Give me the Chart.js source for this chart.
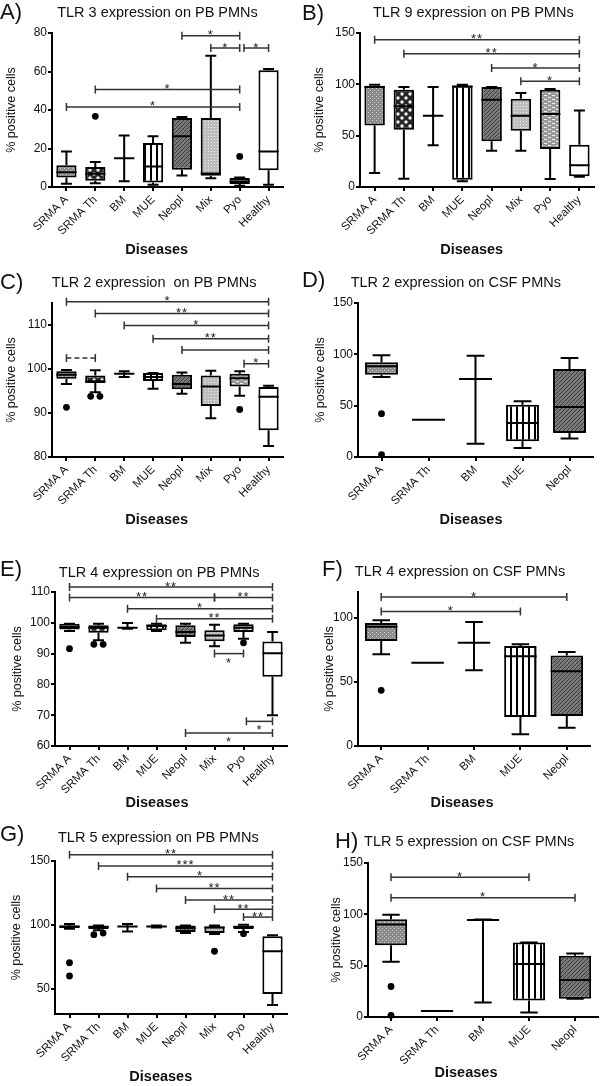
<!DOCTYPE html>
<html>
<head>
<meta charset="utf-8">
<script src="https://cdn.jsdelivr.net/npm/chart.js@4.4.1/dist/chart.umd.min.js"></script>
<style>
  html, body { margin: 0; background: #fff; overflow: hidden; }
  #fig { position: relative; width: 600px; height: 1086px; overflow: hidden; }
  #fig canvas { position: absolute; }
</style>
</head>
<body>
<div id="fig"></div>
<script>
// categories and box fills
const pbDiseases = ['SRMA A', 'SRMA Th', 'BM', 'MUE', 'Neopl', 'Mix', 'Pyo', 'Healthy'];
const csfDiseases = ['SRMA A', 'SRMA Th', 'BM', 'MUE', 'Neopl'];
const pbFills = ['grayDots', 'checker', 'none', 'stripes', 'hatch', 'lightDots', 'dashes', 'white'];
const csfFills = ['grayDots', 'none', 'none', 'stripes', 'hatch'];

// A) TLR 3 on PB PMNs
const tlr3PbMin = [1.7, 2, 3, 1.2, 6, 4.5, 0.7, 1.2];
const tlr3PbQ1 = [5, 3.3, 15, 2.4, 9, 5.8, 1.6, 8.7];
const tlr3PbMed = [7.6, 6.9, 15, 10.7, 26.3, 7, 2.9, 18.5];
const tlr3PbQ3 = [11.3, 10.4, 15, 22.9, 35.8, 35.8, 4.7, 60.6];
const tlr3PbMax = [18.5, 13, 26.8, 26.3, 36.4, 68.2, 5, 61.3];
const tlr3PbOut = [[1, 36.7], [6, 15.9]];
// [from, to, y, label, label below, dashed]
const tlr3PbSig = [[4, 6, 78.6, '*'], [5, 6, 72.2, '*'], [6.15, 7, 72.2, '*'], [1, 6, 50.6, '*'], [0, 6, 41.6, '*']];

// B) TLR 9 on PB PMNs
const tlr9PbMin = [13.6, 8.1, 40.6, 5.5, 35.4, 35.4, 7.8, 10];
const tlr9PbQ1 = [60, 55.8, 69.5, 7.1, 44.5, 54.9, 37, 10.4];
const tlr9PbMed = [97.4, 78.6, 69.5, 98, 85, 69.5, 71.1, 21.1];
const tlr9PbQ3 = [98.7, 94.8, 69.5, 98.7, 97.4, 86, 94.8, 41.2];
const tlr9PbMax = [99.7, 97.4, 97.4, 99.7, 97.4, 91.6, 95.5, 74.4];
const tlr9PbOut = [];
const tlr9PbSig = [[0, 7, 143.5, '**'], [1, 7, 129.9, '**'], [4, 7, 115.9, '*'], [5, 7, 102.9, '*']];

// C) TLR 2 on PB PMNs
const tlr2PbMin = [96.6, 94.7, 98.2, 95.5, 94.4, 88.8, 93.9, 82.5];
const tlr2PbQ1 = [97.8, 96.8, 98.9, 97.3, 95.4, 91.6, 96, 86.1];
const tlr2PbMed = [98.7, 97.2, 98.9, 98.2, 96.6, 96, 97.9, 93.7];
const tlr2PbQ3 = [99.5, 98.5, 98.9, 99.1, 98.7, 98.5, 98.9, 95.9];
const tlr2PbMax = [99.8, 99.7, 99.5, 99.1, 99.2, 99.6, 99.5, 96.2];
const tlr2PbOut = [[0, 91.3], [0.84, 93.8], [1.16, 93.8], [6, 90.8]];
const tlr2PbSig = [[0, 7, 115.3, '*'], [1, 7, 112.6, '**'], [2, 7, 109.9, '*'], [3, 7, 106.9, '**'],
  [4, 7, 104.3, ''], [6.15, 7, 101.2, '*'], [0, 1, 102.5, '', false, true]];

// D) TLR 2 on CSF PMNs
const tlr2CsfMin = [77.9, 36.4, 13, 8.8, 17.9];
const tlr2CsfQ1 = [80.2, 36.4, 76, 15.3, 23.4];
const tlr2CsfMed = [88.3, 36.4, 76, 33.1, 48.7];
const tlr2CsfQ3 = [92.2, 36.4, 76, 51, 85.7];
const tlr2CsfMax = [99, 36.4, 98.7, 54.2, 96.4];
const tlr2CsfOut = [[0, 42.2], [0, 2.3]];
const tlr2CsfSig = [];

// E) TLR 4 on PB PMNs
const tlr4PbMin = [97.3, 94.3, 98.1, 97.3, 93.5, 92.4, 94.8, 70];
const tlr4PbQ1 = [97.8, 96.8, 98.4, 97.6, 95.4, 94, 97, 82.5];
const tlr4PbMed = [98.6, 98.4, 98.4, 99, 97, 95.9, 98.4, 90.1];
const tlr4PbQ3 = [99.7, 99.2, 98.4, 99.5, 99.2, 97.6, 99.5, 93.9];
const tlr4PbMax = [99.7, 99.7, 99.9, 99.7, 99.7, 99.4, 99.7, 97];
const tlr4PbOut = [[0, 91.6], [0.84, 93], [1.16, 93], [6, 93.5]];
const tlr4PbSig = [[0, 7, 111.6, '**'], [0, 5, 108.2, '**'], [5, 7, 108.2, '**'], [2, 7, 104.6, '*'],
  [3, 7, 101.3, '**'], [5, 6, 90, '*', true], [6.1, 7, 68, '*', true], [4, 7, 64.2, '*', true]];

// F) TLR 4 on CSF PMNs
const tlr4CsfMin = [71.4, 64.9, 59, 9.1, 14.3];
const tlr4CsfQ1 = [81.8, 64.9, 80.5, 22.6, 23.4];
const tlr4CsfMed = [93, 64.9, 80.5, 69.9, 58.2];
const tlr4CsfQ3 = [95.8, 64.9, 80.5, 77.9, 70.6];
const tlr4CsfMax = [97.9, 64.9, 96.6, 79.2, 73.2];
const tlr4CsfOut = [[0, 43.4]];
const tlr4CsfSig = [[0, 4, 116.1, '*'], [0, 3, 104.9, '*']];

// G) TLR 5 on PB PMNs
const tlr5PbMin = [96.9, 95.6, 94.8, 97.8, 93.5, 92.7, 94.3, 37];
const tlr5PbQ1 = [97.4, 96.6, 98.7, 98, 94.3, 93.5, 96.6, 45.6];
const tlr5PbMed = [98.7, 98.2, 98.7, 98.7, 97.4, 97.9, 98.2, 79.3];
const tlr5PbQ3 = [99.5, 99.5, 98.7, 99.2, 99.5, 98.7, 99.5, 90.9];
const tlr5PbMax = [100.5, 99.5, 100.5, 99.4, 99.5, 99.5, 100, 91.7];
const tlr5PbOut = [[0, 70.2], [0, 59.8], [0.84, 92.2], [1.16, 93.5], [5, 79.2], [6, 93]];
const tlr5PbSig = [[0, 7, 154.9, '**'], [1, 7, 146.1, '***'], [2, 7, 137.6, '*'], [3, 7, 128.5, '**'],
  [4, 7, 119.4, '**'], [5, 7, 112.2, '**'], [6, 7, 106, '**']];

// H) TLR 5 on CSF PMNs
const tlr5CsfMin = [53.9, 5.8, 14.2, 4.5, 17.7];
const tlr5CsfQ1 = [70, 5.8, 94.5, 16.1, 17.7];
const tlr5CsfMed = [90, 5.8, 94.5, 51.6, 36.1];
const tlr5CsfQ3 = [95.2, 5.8, 94.5, 72.6, 59.7];
const tlr5CsfMax = [99.7, 5.8, 95, 72.6, 61.9];
const tlr5CsfOut = [[0, 29.7], [0, 1.6]];
const tlr5CsfSig = [[0, 3, 136.1, '*'], [0, 4, 116.1, '*']];

const FONT = '"Liberation Sans", Arial, Helvetica, sans-serif';
const INK = '#111';

/** Small repeating textures like the GraphPad box fills. */
function makeFill(kind) {
  if (kind === 'white') return '#ffffff';
  if (kind === 'none') return 'rgba(0,0,0,0)';
  const c = document.createElement('canvas');
  const g = c.getContext('2d');
  if (kind === 'grayDots') {
    c.width = 4; c.height = 4;
    g.fillStyle = '#8a8a8a'; g.fillRect(0, 0, 4, 4);
    g.fillStyle = '#cfcfcf'; g.fillRect(0, 0, 1, 1); g.fillRect(2, 2, 1, 1);
  } else if (kind === 'checker') {
    c.width = 8; c.height = 8;
    g.fillStyle = '#262626'; g.fillRect(0, 0, 8, 8);
    g.fillStyle = '#f2f2f2';
    g.beginPath(); g.arc(2, 2, 1.7, 0, Math.PI * 2); g.arc(6, 6, 1.7, 0, Math.PI * 2); g.fill();
  } else if (kind === 'stripes') {
    c.width = 6; c.height = 2;
    g.fillStyle = '#ffffff'; g.fillRect(0, 0, 6, 2);
    g.fillStyle = '#000000'; g.fillRect(0, 0, 2, 2);
  } else if (kind === 'hatch') {
    c.width = 4; c.height = 4;
    g.fillStyle = '#7a7a7a'; g.fillRect(0, 0, 4, 4);
    g.fillStyle = '#3a3a3a';
    g.fillRect(0, 3, 1, 1); g.fillRect(1, 2, 1, 1); g.fillRect(2, 1, 1, 1); g.fillRect(3, 0, 1, 1);
  } else if (kind === 'lightDots') {
    c.width = 3; c.height = 3;
    g.fillStyle = '#bdbdbd'; g.fillRect(0, 0, 3, 3);
    g.fillStyle = '#eeeeee'; g.fillRect(1, 1, 1, 1);
  } else if (kind === 'dashes') {
    c.width = 8; c.height = 4;
    g.fillStyle = '#9a9a9a'; g.fillRect(0, 0, 8, 4);
    g.fillStyle = '#f0f0f0'; g.fillRect(0, 1, 3, 1); g.fillRect(4, 3, 3, 1);
  }
  return g.createPattern(c, 'repeat');
}

/** Whiskers, medians, outliers, significance bars and panel texts. */
const boxExtras = {
  id: 'boxExtras',
  afterDatasetsDraw(chart, args, o) {
    const { ctx, scales: { x, y } } = chart;
    const bars = chart.getDatasetMeta(0).data;
    ctx.save();
    ctx.strokeStyle = '#000';
    ctx.lineWidth = 2;
    o.med.forEach((m, i) => {
      const cx = x.getPixelForValue(i);
      const w = bars[i].width;
      const yMin = y.getPixelForValue(o.min[i]);
      const yMax = y.getPixelForValue(o.max[i]);
      const yQ1 = y.getPixelForValue(o.q1[i]);
      const yQ3 = y.getPixelForValue(o.q3[i]);
      const yMed = y.getPixelForValue(m);
      ctx.beginPath();
      ctx.moveTo(cx, yMin); ctx.lineTo(cx, yQ1);
      ctx.moveTo(cx, yQ3); ctx.lineTo(cx, yMax);
      ctx.moveTo(cx - w * 0.27, yMin); ctx.lineTo(cx + w * 0.27, yMin);
      ctx.moveTo(cx - w * 0.27, yMax); ctx.lineTo(cx + w * 0.27, yMax);
      ctx.moveTo(cx - w / 2, yMed); ctx.lineTo(cx + w / 2, yMed);
      ctx.stroke();
    });
    ctx.fillStyle = '#000';
    o.out.forEach(([i, v]) => {
      ctx.beginPath();
      ctx.arc(x.getPixelForValue(i), y.getPixelForValue(v), 3.4, 0, Math.PI * 2);
      ctx.fill();
    });
    ctx.strokeStyle = '#333';
    ctx.fillStyle = '#222';
    ctx.lineWidth = 1.5;
    ctx.font = '13px ' + FONT;
    ctx.textAlign = 'center';
    ctx.textBaseline = 'alphabetic';
    ctx.letterSpacing = '1px';
    o.sig.forEach(([a, b, v, txt, below, dashed]) => {
      const x1 = x.getPixelForValue(a);
      const x2 = x.getPixelForValue(b);
      const yy = y.getPixelForValue(v);
      ctx.setLineDash(dashed ? [5, 3] : []);
      ctx.beginPath(); ctx.moveTo(x1, yy); ctx.lineTo(x2, yy); ctx.stroke();
      ctx.setLineDash([]);
      ctx.beginPath();
      ctx.moveTo(x1, yy - 4); ctx.lineTo(x1, yy + 4);
      ctx.moveTo(x2, yy - 4); ctx.lineTo(x2, yy + 4);
      ctx.stroke();
      if (txt) ctx.fillText(txt, (x1 + x2) / 2, below ? yy + 13 : yy + 3.5);
    });
    ctx.restore();
  },
  afterDraw(chart, args, o) {
    const { ctx } = chart;
    ctx.save();
    ctx.fillStyle = INK;
    ctx.textBaseline = 'middle';
    ctx.textAlign = 'center';
    ctx.font = '14.5px ' + FONT;
    ctx.fillText(o.title, o.titlePos[0], o.titlePos[1]);
    ctx.font = 'bold 14.5px ' + FONT;
    ctx.fillText('Diseases', o.disPos[0], o.disPos[1]);
    ctx.textAlign = 'left';
    ctx.font = '22px ' + FONT;
    ctx.fillText(o.letter, o.letterPos[0], o.letterPos[1]);
    ctx.restore();
  }
};

const panels = [
  { letter: 'A)', title: 'TLR 3 expression on PB PMNs', labels: pbDiseases, fills: pbFills,
    min: tlr3PbMin, q1: tlr3PbQ1, med: tlr3PbMed, q3: tlr3PbQ3, max: tlr3PbMax, out: tlr3PbOut, sig: tlr3PbSig,
    yMin: 0, yMax: 80, step: 20,
    left: 0, top: 0, w: 300, h: 280, area: [52, 283, 33, 187], yTitleX: 12,
    titlePos: [157.5, 12.7], letterPos: [0, 12.5], disPos: [156.7, 250] },
  { letter: 'B)', title: 'TLR 9 expression on PB PMNs', labels: pbDiseases, fills: pbFills,
    min: tlr9PbMin, q1: tlr9PbQ1, med: tlr9PbMed, q3: tlr9PbQ3, max: tlr9PbMax, out: tlr9PbOut, sig: tlr9PbSig,
    yMin: 0, yMax: 150, step: 50,
    left: 300, top: 0, w: 300, h: 280, area: [60, 294, 33, 187], yTitleX: 20,
    titlePos: [173.3, 13.3], letterPos: [2, 14], disPos: [171.7, 250] },
  { letter: 'C)', title: 'TLR 2 expression  on PB PMNs', labels: pbDiseases, fills: pbFills,
    min: tlr2PbMin, q1: tlr2PbQ1, med: tlr2PbMed, q3: tlr2PbQ3, max: tlr2PbMax, out: tlr2PbOut, sig: tlr2PbSig,
    yMin: 80, yMax: 115, step: 10,
    left: 0, top: 270, w: 300, h: 280, area: [52, 283, 33, 187], yTitleX: 12,
    titlePos: [154.2, 13.3], letterPos: [0, 12.5], disPos: [156.7, 250] },
  { letter: 'D)', title: 'TLR 2 expression on CSF PMNs', labels: csfDiseases, fills: csfFills,
    min: tlr2CsfMin, q1: tlr2CsfQ1, med: tlr2CsfMed, q3: tlr2CsfQ3, max: tlr2CsfMax, out: tlr2CsfOut, sig: tlr2CsfSig,
    yMin: 0, yMax: 150, step: 50,
    left: 300, top: 270, w: 300, h: 280, area: [58, 293, 33, 187], yTitleX: 21,
    titlePos: [155.8, 12.7], letterPos: [2, 11], disPos: [171, 250] },
  { letter: 'E)', title: 'TLR 4 expression on PB PMNs', labels: pbDiseases, fills: pbFills,
    min: tlr4PbMin, q1: tlr4PbQ1, med: tlr4PbMed, q3: tlr4PbQ3, max: tlr4PbMax, out: tlr4PbOut, sig: tlr4PbSig,
    yMin: 60, yMax: 110, step: 10,
    left: 0, top: 540, w: 300, h: 280, area: [55, 287, 52, 206], yTitleX: 18,
    titlePos: [159.2, 33.3], letterPos: [0, 29.5], disPos: [157, 263] },
  { letter: 'F)', title: 'TLR 4 expression on CSF PMNs', labels: csfDiseases, fills: csfFills,
    min: tlr4CsfMin, q1: tlr4CsfQ1, med: tlr4CsfMed, q3: tlr4CsfQ3, max: tlr4CsfMax, out: tlr4CsfOut, sig: tlr4CsfSig,
    yMin: 0, yMax: 120, step: 50,
    left: 300, top: 540, w: 300, h: 280, area: [58, 290, 52, 206], yTitleX: 30,
    titlePos: [160, 31.7], letterPos: [22, 30], disPos: [162, 263] },
  { letter: 'G)', title: 'TLR 5 expression on PB PMNs', labels: pbDiseases, fills: pbFills,
    min: tlr5PbMin, q1: tlr5PbQ1, med: tlr5PbMed, q3: tlr5PbQ3, max: tlr5PbMax, out: tlr5PbOut, sig: tlr5PbSig,
    yMin: 30, yMax: 150, step: 50,
    left: 0, top: 810, w: 300, h: 276, area: [55, 287, 51, 204], yTitleX: 17,
    titlePos: [158.3, 28.3], letterPos: [0, 25], disPos: [160.8, 266.7] },
  { letter: 'H)', title: 'TLR 5 expression on CSF PMNs', labels: csfDiseases, fills: csfFills,
    min: tlr5CsfMin, q1: tlr5CsfQ1, med: tlr5CsfMed, q3: tlr5CsfQ3, max: tlr5CsfMax, out: tlr5CsfOut, sig: tlr5CsfSig,
    yMin: 0, yMax: 150, step: 50,
    left: 300, top: 810, w: 300, h: 276, area: [68, 298, 53, 207], yTitleX: 37,
    titlePos: [169.2, 31.7], letterPos: [35, 32], disPos: [166, 263] }
];

/** One box plot panel: boxes are floating bars, the rest is drawn by boxExtras. */
function makePanel(p) {
  const canvas = document.createElement('canvas');
  canvas.width = p.w;
  canvas.height = p.h;
  canvas.style.left = p.left + 'px';
  canvas.style.top = p.top + 'px';
  document.getElementById('fig').appendChild(canvas);
  const [al, ar, at, ab] = p.area;

  const config = {
    type: 'bar',
    data: {
      labels: p.labels,
      datasets: [{
        data: p.q1.map((v, i) => [v, p.q3[i]]),
        backgroundColor: p.fills.map(makeFill),
        borderColor: '#000',
        borderWidth: 2,
        borderSkipped: false,
        barPercentage: 0.7,
        categoryPercentage: 1
      }]
    },
    options: {
      responsive: false,
      animation: false,
      layout: { padding: { left: 0, top: at, right: p.w - ar, bottom: 0 } },
      plugins: {
        legend: { display: false },
        tooltip: { enabled: false },
        boxExtras: {
          min: p.min, q1: p.q1, med: p.med, q3: p.q3, max: p.max, out: p.out, sig: p.sig,
          title: p.title, letter: p.letter,
          titlePos: p.titlePos, letterPos: p.letterPos, disPos: p.disPos
        }
      },
      scales: {
        x: {
          offset: true,
          grid: { drawOnChartArea: false, drawTicks: true, tickLength: 4, color: '#000', lineWidth: 2, offset: false },
          border: { display: true, color: '#000', width: 2 },
          ticks: {
            color: INK, font: { family: FONT, size: 11.5 },
            minRotation: 45, maxRotation: 45, autoSkip: false, padding: 2
          },
          afterFit: s => { s.height = p.h - ab; }
        },
        y: {
          min: p.yMin,
          max: p.yMax,
          grid: { drawOnChartArea: false, drawTicks: true, tickLength: 4, color: '#000', lineWidth: 2 },
          border: { display: true, color: '#000', width: 2 },
          ticks: { stepSize: p.step, includeBounds: false, color: INK, font: { family: FONT, size: 12 }, padding: 1 },
          title: {
            display: true, text: '% positive cells', color: INK,
            font: { family: FONT, size: 12.5 }, padding: { top: p.yTitleX - 7.5, bottom: 0 }
          },
          afterFit: s => { s.width = al; }
        }
      }
    },
    plugins: [boxExtras]
  };

  new Chart(canvas, config);
}

panels.forEach(makePanel);
</script>
</body>
</html>
